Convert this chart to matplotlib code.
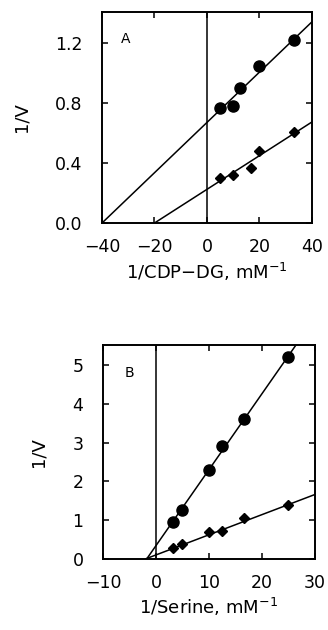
"""Double-reciprocal plots, panels A and B."""
import matplotlib
matplotlib.use('Agg')
import matplotlib.pyplot as plt
import numpy as np

plt.rcParams['font.family'] = ['DejaVu Sans']

# Panel A data: 1/CDP-DG vs 1/V
a_circ_x = [5, 10, 12.5, 20, 33.3]
a_circ_y = [0.77, 0.78, 0.90, 1.05, 1.22]
a_diam_x = [5, 10, 16.7, 20, 33.3]
a_diam_y = [0.30, 0.32, 0.37, 0.48, 0.61]
a_circ_fit = (0.0168, 0.672)   # slope, intercept
a_diam_fit = (0.01125, 0.225)

# Panel B data: 1/Serine vs 1/V
b_circ_x = [3.3, 5, 10, 12.5, 16.7, 25]
b_circ_y = [0.95, 1.25, 2.3, 2.9, 3.6, 5.2]
b_diam_x = [3.3, 5, 10, 12.5, 16.7, 25]
b_diam_y = [0.28, 0.37, 0.68, 0.73, 1.05, 1.4]
b_circ_fit = (0.196, 0.34)
b_diam_fit = (0.052, 0.10)


def draw_panel(ax, cx, cy, dx, dy, cfit, dfit, xlim, ylim):
    for slope, icpt in (cfit, dfit):
        x0 = -icpt / slope
        xs = np.array([x0, xlim[1]])
        ax.plot(xs, slope * xs + icpt, color='black', lw=1.1)
    ax.plot(cx, cy, 'o', color='black', ms=8, zorder=3)
    ax.plot(dx, dy, 'D', color='black', ms=5.5, zorder=3)
    ax.axvline(0, color='black', lw=1.1)
    ax.set_xlim(*xlim)
    ax.set_ylim(*ylim)
    ax.tick_params(direction='in', top=True, right=True, length=4,
                   width=1.1, labelsize=12.5)
    ax.tick_params(axis='x', pad=11)
    ax.tick_params(axis='y', pad=14)
    for s in ax.spines.values():
        s.set_linewidth(1.4)


fig = plt.figure(figsize=(3.28, 6.30), dpi=100)

axA = fig.add_axes([0.311, 0.646, 0.640, 0.335])
draw_panel(axA, a_circ_x, a_circ_y, a_diam_x, a_diam_y,
           a_circ_fit, a_diam_fit, (-40, 40), (0, 1.41))
axA.set_xticks([-40, -20, 0, 20, 40])
axA.set_yticks([0.0, 0.4, 0.8, 1.2])
axA.set_yticklabels(['0.0', '0.4', '0.8', '1.2'])
axA.set_xlabel('1/CDP\u2212DG, mM$^{-1}$', fontsize=13, labelpad=3)
axA.set_ylabel('1/V', fontsize=13, labelpad=18)
axA.text(-31, 1.23, 'A', fontsize=10, ha='center', va='center')

axB = fig.add_axes([0.314, 0.113, 0.646, 0.340])
draw_panel(axB, b_circ_x, b_circ_y, b_diam_x, b_diam_y,
           b_circ_fit, b_diam_fit, (-10, 30), (0, 5.53))
axB.set_xticks([-10, 0, 10, 20, 30])
axB.set_yticks([0, 1, 2, 3, 4, 5])
axB.set_xlabel('1/Serine, mM$^{-1}$', fontsize=13, labelpad=3)
axB.set_ylabel('1/V', fontsize=13, labelpad=18)
axB.text(-5, 4.8, 'B', fontsize=10, ha='center', va='center')

fig.savefig('out.png', dpi=100)
